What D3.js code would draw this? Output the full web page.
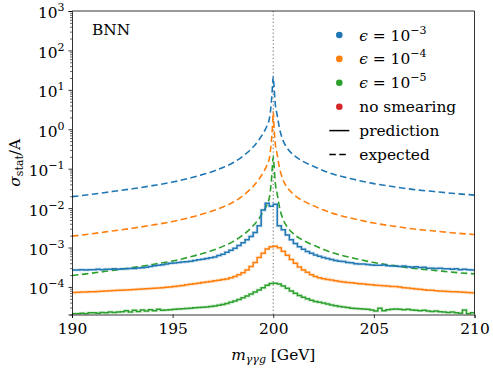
<!DOCTYPE html>
<html>
<head>
<meta charset="utf-8">
<script src="https://cdn.jsdelivr.net/npm/d3@7"></script>
<style>
  html, body { margin: 0; padding: 0; background: #fff; }
  svg { display: block; font-family: 'DejaVu Serif', serif; }
</style>
</head>
<body>
<div id="chart"></div>
<script>
'use strict';

// prediction histograms: one value per 0.2 GeV bin, 190 -> 210
var binStart = 190, binWidth = 0.2;

var predBlue = [
  2.69e-4, 2.69e-4, 2.75e-4, 2.69e-4, 2.75e-4, 2.75e-4, 2.82e-4, 2.75e-4, 2.82e-4, 2.82e-4,
  2.88e-4, 2.82e-4, 2.88e-4, 2.88e-4, 2.95e-4, 2.95e-4, 3.02e-4, 3.09e-4, 3.16e-4, 3.31e-4,
  3.47e-4, 3.55e-4, 3.63e-4, 3.80e-4, 3.98e-4, 4.07e-4, 4.17e-4, 4.27e-4, 4.37e-4, 4.47e-4,
  4.68e-4, 4.90e-4, 5.01e-4, 5.25e-4, 5.50e-4, 5.75e-4, 6.31e-4, 6.76e-4, 7.59e-4, 8.51e-4,
  9.55e-4, 1.12e-3, 1.32e-3, 1.58e-3, 1.91e-3, 2.40e-3, 3.55e-3, 8.90e-3, 1.32e-2, 1.12e-2,
  1.26e-2, 3.55e-3, 2.82e-3, 2.09e-3, 1.58e-3, 1.26e-3, 1.05e-3, 9.10e-4, 7.90e-4, 7.20e-4,
  6.50e-4, 6.00e-4, 5.60e-4, 5.25e-4, 5.00e-4, 4.70e-4, 4.50e-4, 4.40e-4, 4.20e-4, 4.10e-4,
  3.90e-4, 3.80e-4, 3.80e-4, 3.70e-4, 3.60e-4, 3.55e-4, 3.55e-4, 3.60e-4, 3.45e-4, 3.40e-4,
  3.40e-4, 3.30e-4, 3.40e-4, 3.24e-4, 3.16e-4, 3.24e-4, 3.10e-4, 3.16e-4, 3.00e-4, 3.00e-4,
  2.95e-4, 3.00e-4, 2.88e-4, 2.88e-4, 2.82e-4, 2.88e-4, 2.75e-4, 2.82e-4, 2.75e-4, 2.69e-4
];

var predOrange = [
  7.2e-5, 7.3e-5, 7.4e-5, 7.4e-5, 7.6e-5, 7.6e-5, 7.7e-5, 7.8e-5, 7.9e-5, 8.0e-5,
  8.1e-5, 8.2e-5, 8.3e-5, 8.4e-5, 8.5e-5, 8.6e-5, 8.7e-5, 8.9e-5, 9.0e-5, 9.1e-5,
  9.3e-5, 9.4e-5, 9.6e-5, 9.8e-5, 1.00e-4, 1.03e-4, 1.06e-4, 1.09e-4, 1.13e-4, 1.17e-4,
  1.21e-4, 1.25e-4, 1.29e-4, 1.33e-4, 1.38e-4, 1.43e-4, 1.48e-4, 1.54e-4, 1.60e-4, 1.70e-4,
  1.83e-4, 2.05e-4, 2.30e-4, 2.70e-4, 3.30e-4, 4.20e-4, 5.60e-4, 7.20e-4, 9.20e-4, 1.05e-3,
  1.07e-3, 9.80e-4, 8.00e-4, 6.40e-4, 5.00e-4, 4.00e-4, 3.20e-4, 2.70e-4, 2.35e-4, 2.05e-4,
  1.85e-4, 1.70e-4, 1.62e-4, 1.55e-4, 1.49e-4, 1.43e-4, 1.38e-4, 1.34e-4, 1.30e-4, 1.27e-4,
  1.24e-4, 1.21e-4, 1.19e-4, 1.16e-4, 1.14e-4, 1.11e-4, 1.09e-4, 1.07e-4, 1.05e-4, 1.03e-4,
  1.02e-4, 9.9e-5, 9.6e-5, 9.4e-5, 9.1e-5, 8.9e-5, 8.7e-5, 8.5e-5, 8.3e-5, 8.2e-5,
  8.0e-5, 7.9e-5, 7.8e-5, 7.7e-5, 7.6e-5, 7.5e-5, 7.4e-5, 7.3e-5, 7.2e-5, 7.1e-5
];

var predGreen = [
  2.10e-5, 2.10e-5, 2.15e-5, 2.10e-5, 2.20e-5, 2.20e-5, 2.15e-5, 2.25e-5, 2.20e-5, 2.30e-5,
  2.25e-5, 2.30e-5, 2.35e-5, 2.50e-5, 2.30e-5, 2.55e-5, 2.40e-5, 2.60e-5, 2.45e-5, 2.65e-5,
  2.50e-5, 2.70e-5, 2.55e-5, 2.60e-5, 2.65e-5, 2.70e-5, 2.75e-5, 2.80e-5, 2.85e-5, 2.90e-5,
  2.95e-5, 3.00e-5, 3.05e-5, 3.10e-5, 3.20e-5, 3.30e-5, 3.45e-5, 3.60e-5, 3.80e-5, 4.10e-5,
  4.40e-5, 4.80e-5, 5.30e-5, 5.90e-5, 6.60e-5, 7.40e-5, 8.40e-5, 9.50e-5, 1.10e-4, 1.22e-4,
  1.24e-4, 1.18e-4, 1.06e-4, 9.20e-5, 7.90e-5, 6.90e-5, 6.10e-5, 5.50e-5, 5.00e-5, 4.60e-5,
  4.30e-5, 4.10e-5, 3.90e-5, 3.70e-5, 3.50e-5, 3.35e-5, 3.20e-5, 3.10e-5, 3.00e-5, 2.90e-5,
  2.85e-5, 2.80e-5, 2.75e-5, 2.70e-5, 2.60e-5, 2.45e-5, 2.90e-5, 2.50e-5, 2.65e-5, 2.70e-5,
  2.75e-5, 2.70e-5, 2.65e-5, 2.70e-5, 2.60e-5, 2.55e-5, 2.50e-5, 2.55e-5, 2.45e-5, 2.40e-5,
  2.45e-5, 2.35e-5, 2.30e-5, 2.25e-5, 2.30e-5, 2.20e-5, 2.15e-5, 2.60e-5, 2.10e-5, 2.20e-5
];

// expected curves, sampled on a mass grid
var expMass = [
  190, 191, 192, 193, 194, 195, 196, 197, 197.5, 198, 198.5, 199, 199.3, 199.5, 199.7, 199.8,
  199.9, 199.97, 200, 200.03, 200.1, 200.2, 200.3, 200.5, 200.7, 201, 201.5, 202, 202.5, 203,
  204, 205, 206, 207, 208, 209, 210
];
var expBlue = [
  0.0195, 0.0224, 0.0263, 0.0309, 0.0372, 0.0457, 0.0603, 0.0851, 0.107, 0.141, 0.209, 0.355,
  0.550, 0.794, 1.26, 1.78, 4.47, 14.1, 21.4, 14.1, 4.47, 2.24, 1.12, 0.501, 0.331, 0.224,
  0.151, 0.115, 0.0891, 0.0724, 0.0537, 0.0417, 0.0347, 0.0295, 0.0263, 0.0234, 0.0214
];
var expOrange = [
  0.00195, 0.00224, 0.00263, 0.00309, 0.00372, 0.00457, 0.00603, 0.00851, 0.0107, 0.0141,
  0.0209, 0.0355, 0.0550, 0.0794, 0.126, 0.178, 0.447, 1.41, 2.8, 1.41, 0.447, 0.224, 0.112,
  0.0501, 0.0331, 0.0224, 0.0151, 0.0115, 0.00891, 0.00724, 0.00537, 0.00417, 0.00347,
  0.00295, 0.00263, 0.00234, 0.00214
];
var expGreen = [
  0.000195, 0.000224, 0.000263, 0.000309, 0.000372, 0.000457, 0.000603, 0.000851, 0.00107,
  0.00141, 0.00209, 0.00355, 0.00550, 0.00794, 0.0126, 0.0178, 0.0447, 0.141, 0.2, 0.141,
  0.0447, 0.0224, 0.0112, 0.00501, 0.00331, 0.00224, 0.00151, 0.00115, 0.000891, 0.000724,
  0.000537, 0.000417, 0.000347, 0.000295, 0.000263, 0.000234, 0.000214
];

var xTicks = [190, 195, 200, 205, 210];
var yExponents = [-4, -3, -2, -1, 0, 1, 2, 3];
var peakMass = 200;

var colors = { blue: '#1f77b4', orange: '#ff7f0e', green: '#2ca02c', red: '#d62728' };
var legendEps = [
  { color: colors.blue, exp: '−3' },
  { color: colors.orange, exp: '−4' },
  { color: colors.green, exp: '−5' }
];

var width = 493, height = 370;
var margin = { top: 11, right: 18.5, bottom: 55.5, left: 72 };
var fontFamily = 'DejaVu Serif', fontSize = 15.4, supSize = 11;

var svg = d3.select('#chart').append('svg')
  .attr('width', width)
  .attr('height', height);

var x = d3.scaleLinear().domain([190, 210]).range([margin.left, width - margin.right]);
var y = d3.scaleLog().domain([2e-5, 1e3]).range([height - margin.bottom, margin.top]);

svg.append('defs').append('clipPath')
  .attr('id', 'plot-clip')
  .append('rect')
  .attr('x', margin.left)
  .attr('y', margin.top)
  .attr('width', x.range()[1] - margin.left)
  .attr('height', y.range()[0] - margin.top);

var plot = svg.append('g').attr('clip-path', 'url(#plot-clip)');

// vertical marker at the resonance
plot.append('line')
  .attr('x1', x(peakMass)).attr('x2', x(peakMass))
  .attr('y1', margin.top).attr('y2', y.range()[0])
  .attr('stroke', '#808080')
  .attr('stroke-width', 1.2)
  .attr('stroke-dasharray', '1.2,2.4');

// expected (dashed)
var expLine = d3.line()
  .x(d => x(d[0]))
  .y(d => y(d[1]))
  .curve(d3.curveMonotoneX);

[[expBlue, colors.blue], [expOrange, colors.orange], [expGreen, colors.green]].forEach(function (s) {
  plot.append('path')
    .datum(expMass.map((m, i) => [m, s[0][i]]))
    .attr('fill', 'none')
    .attr('stroke', s[1])
    .attr('stroke-width', 1.6)
    .attr('stroke-dasharray', '6.5,3.5')
    .attr('d', expLine);
});

// prediction histograms (steps)
var stepLine = d3.line()
  .x(d => x(d[0]))
  .y(d => y(d[1]))
  .curve(d3.curveStepAfter);

function histPoints (values) {
  var pts = values.map((v, i) => [binStart + i * binWidth, v]);
  pts.push([binStart + values.length * binWidth, values[values.length - 1]]);
  return pts;
}

[[predGreen, colors.green], [predOrange, colors.orange], [predBlue, colors.blue]].forEach(function (s) {
  var pts = histPoints(s[0]);
  plot.append('path')
    .datum(pts)
    .attr('fill', 'none')
    .attr('stroke', s[1])
    .attr('stroke-opacity', 0.18)
    .attr('stroke-width', 3.2)
    .attr('d', stepLine);
  plot.append('path')
    .datum(pts)
    .attr('fill', 'none')
    .attr('stroke', s[1])
    .attr('stroke-width', 1.5)
    .attr('d', stepLine);
});

// axes
var xAxis = svg.append('g')
  .attr('transform', 'translate(0,' + y.range()[0] + ')')
  .call(d3.axisBottom(x).tickValues(xTicks).tickSize(3.5).tickPadding(5).tickFormat(d3.format('d')));

var minorTicks = [];
for (var e = -5; e <= 2; e++) {
  for (var k = 2; k <= 9; k++) {
    var v = k * Math.pow(10, e);
    if (v >= 2e-5 && v <= 1e3) minorTicks.push(v);
  }
}

svg.append('g')
  .attr('class', 'minor')
  .attr('transform', 'translate(' + margin.left + ',0)')
  .call(d3.axisLeft(y).tickValues(minorTicks).tickSize(2).tickFormat(''))
  .call(g => g.select('.domain').remove());

var yAxis = svg.append('g')
  .attr('transform', 'translate(' + margin.left + ',0)')
  .call(d3.axisLeft(y).tickValues(yExponents.map(p => Math.pow(10, p))).tickSize(3.5).tickPadding(4));

yAxis.selectAll('.tick text').each(function (d) {
  var p = Math.round(Math.log10(d));
  var t = d3.select(this).text('').attr('dy', '0.45em');
  t.append('tspan').text('10');
  t.append('tspan')
    .attr('dy', -7)
    .attr('font-size', supSize)
    .text(p < 0 ? '−' + (-p) : String(p));
});

[xAxis, yAxis].forEach(function (g) {
  g.attr('font-family', fontFamily);
  g.selectAll('text').attr('font-size', fontSize).attr('fill', '#000');
  g.selectAll('line').attr('stroke', '#000').attr('stroke-width', 0.8);
  g.select('.domain').attr('stroke', '#000').attr('stroke-width', 0.8);
});
svg.selectAll('.minor line').attr('stroke', '#000').attr('stroke-width', 0.6);

// top and right spines
svg.append('path')
  .attr('d', 'M' + margin.left + ',' + margin.top + 'H' + x.range()[1] + 'V' + y.range()[0])
  .attr('fill', 'none')
  .attr('stroke', '#000')
  .attr('stroke-width', 0.8);

// axis labels
var xLabel = svg.append('text')
  .attr('x', (margin.left + x.range()[1]) / 2)
  .attr('y', 360)
  .attr('text-anchor', 'middle')
  .attr('font-family', fontFamily)
  .attr('font-size', fontSize);
xLabel.append('tspan').attr('font-style', 'italic').text('m');
xLabel.append('tspan').attr('font-style', 'italic').attr('font-size', supSize).attr('dy', 3).text('γγg');
xLabel.append('tspan').attr('dy', -3).text(' [GeV]');

var yLabel = svg.append('text')
  .attr('transform', 'translate(20,' + ((margin.top + y.range()[0]) / 2) + ') rotate(-90)')
  .attr('text-anchor', 'middle')
  .attr('font-family', fontFamily)
  .attr('font-size', fontSize);
yLabel.append('tspan').attr('font-style', 'italic').text('σ');
yLabel.append('tspan').attr('font-size', supSize).attr('dy', 3).text('stat');
yLabel.append('tspan').attr('dy', -3).text('/A');

svg.append('text')
  .attr('x', 92)
  .attr('y', 35)
  .attr('font-family', fontFamily)
  .attr('font-size', fontSize)
  .text('BNN');

// legend
var legend = svg.append('g').attr('font-family', fontFamily).attr('font-size', fontSize);
var rowY = d => 35 + d * 23.9;

legendEps.forEach(function (item, i) {
  legend.append('circle')
    .attr('cx', 339.3).attr('cy', rowY(i)).attr('r', 3.3)
    .attr('fill', item.color);
  var t = legend.append('text').attr('x', 359.3).attr('y', rowY(i) + 5.5);
  t.append('tspan').attr('font-style', 'italic').text('ϵ');
  t.append('tspan').text(' = 10');
  t.append('tspan').attr('dy', -7).attr('font-size', supSize).text(item.exp);
});

legend.append('circle')
  .attr('cx', 339.3).attr('cy', rowY(3)).attr('r', 3.3)
  .attr('fill', colors.red);
legend.append('text').attr('x', 359.3).attr('y', rowY(3) + 5.5).text('no smearing');

legend.append('line')
  .attr('x1', 329.3).attr('x2', 349.3)
  .attr('y1', rowY(4)).attr('y2', rowY(4))
  .attr('stroke', '#000').attr('stroke-width', 1.5);
legend.append('text').attr('x', 359.3).attr('y', rowY(4) + 5.5).text('prediction');

legend.append('line')
  .attr('x1', 329.3).attr('x2', 349.3)
  .attr('y1', rowY(5)).attr('y2', rowY(5))
  .attr('stroke', '#000').attr('stroke-width', 1.5)
  .attr('stroke-dasharray', '6.5,3.5');
legend.append('text').attr('x', 359.3).attr('y', rowY(5) + 5.5).text('expected');
</script>
</body>
</html>
